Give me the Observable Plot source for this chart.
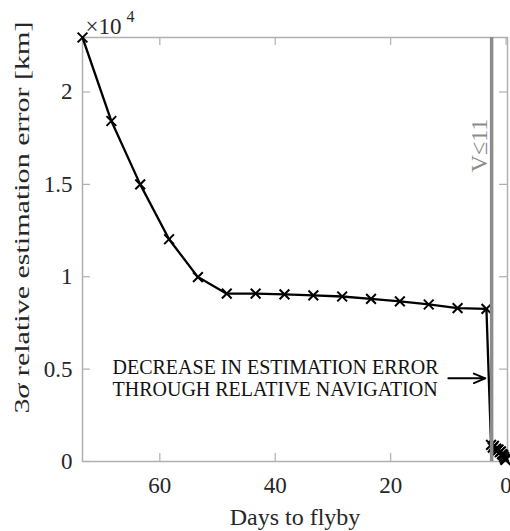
<!DOCTYPE html>
<html>
<head>
<meta charset="utf-8">
<script src="https://cdn.jsdelivr.net/npm/d3@7"></script>
<script src="https://cdn.jsdelivr.net/npm/@observablehq/plot@0.6"></script>
<style>
  html, body { margin: 0; padding: 0; background: #fff; }
</style>
</head>
<body>
<div id="chart"></div>
<script>
// Approach phase: days to flyby and 3-sigma relative error (km)
const farDays   = [73.4, 68.4, 63.4, 58.4, 53.4, 48.4, 43.4, 38.4, 33.4, 28.4, 23.4, 18.4, 13.4, 8.4, 3.4];
const farErrors = [22950, 18430, 15000, 12030, 9980, 9085, 9090, 9047, 8993, 8930, 8800, 8670, 8500, 8300, 8260];
// Final phase after relative navigation starts
const nearDays   = [2.6, 2.3, 2.1, 1.9, 1.7, 1.5, 1.3, 1.1, 0.9, 0.7, 0.5, 0.35, 0.2, 0.1];
const nearErrors = [900, 750, 850, 650, 700, 600, 650, 500, 550, 400, 350, 250, 150, 80];

const xTicks = [0, 20, 40, 60];
const yTicks = [0, 5000, 10000, 15000, 20000];
const vLineDay = 2.5;
const vLineLabel = "V≤11";
const noteLines = ["DECREASE IN ESTIMATION ERROR", "THROUGH RELATIVE NAVIGATION"];
const noteAt = {day: 68.2, error: 4500};
const arrowFrom = {day: 10.0, error: 4500};
const arrowTo = {day: 3.6, error: 4500};
const xLabel = "Days to flyby";
const yLabel = "3σ relative estimation error [km]";

const series = farDays.map((d, i) => ({day: d, err: farErrors[i]}))
  .concat(nearDays.map((d, i) => ({day: d, err: nearErrors[i]})));

const W = 510, H = 531;
const mTop = 37, mLeft = 82, mRight = 3, mBottom = 70;
const plotH = H - mTop - mBottom, plotW = W - mLeft - mRight;
const axisGray = "#b0b0b0";
const textCol = "#262626";
const serif = "'Liberation Serif', 'Times New Roman', serif";

const chart = Plot.plot({
  width: W, height: H,
  marginTop: mTop, marginLeft: mLeft, marginRight: mRight, marginBottom: mBottom,
  style: {fontFamily: serif, fontSize: "23px", color: textCol, background: "#fff", overflow: "visible"},
  x: {domain: [73.4, -0.25]},
  y: {domain: [0, 22950]},
  marks: [
    Plot.frame({stroke: axisGray, strokeWidth: 1.5}),
    // inward ticks on all four sides
    Plot.tickX(xTicks, {x: d => d, stroke: axisGray, strokeWidth: 1.2, insetTop: plotH - 8}),
    Plot.tickX(xTicks, {x: d => d, stroke: axisGray, strokeWidth: 1.2, insetBottom: plotH - 8}),
    Plot.tickY(yTicks, {y: d => d, stroke: axisGray, strokeWidth: 1.2, insetRight: plotW - 8}),
    Plot.tickY(yTicks, {y: d => d, stroke: axisGray, strokeWidth: 1.2, insetLeft: plotW - 8}),
    Plot.axisX({ticks: xTicks, tickSize: 0, tickPadding: 15, label: null, fontSize: 23}),
    Plot.axisY({ticks: yTicks, tickSize: 0, tickPadding: 10, label: null, fontSize: 23, tickFormat: d => String(d / 1e4)}),
    Plot.line(series, {x: "day", y: "err", stroke: "black", strokeWidth: 2.3}),
    Plot.dot(series, {x: "day", y: "err", symbol: "times", r: 4.5, stroke: "black", strokeWidth: 2}),
    Plot.ruleX([vLineDay], {stroke: "#8c8c8c", strokeWidth: 3.5}),
    Plot.text([vLineLabel], {x: vLineDay, frameAnchor: "top", text: d => d, rotate: -90, dx: -22, dy: 108, fill: "#8c8c8c", fontSize: 24}),
    Plot.text([noteLines.join("\n")], {x: noteAt.day, y: noteAt.error, text: d => d, textAnchor: "start", lineAnchor: "middle", lineHeight: 1.1, fontSize: 20, fill: "#111"}),
    Plot.arrow([0], {x1: arrowFrom.day, y1: arrowFrom.error, x2: arrowTo.day, y2: arrowTo.error, stroke: "black", strokeWidth: 2, headLength: 10, headAngle: 45}),
    // axis labels and exponent
    Plot.text([xLabel], {frameAnchor: "bottom", text: d => d, dy: 63, fontSize: 24, lineAnchor: "bottom"}),
    Plot.text([yLabel], {frameAnchor: "bottom-left", text: d => d, rotate: -90, textAnchor: "start", dx: -54, dy: -48, fontSize: 20}),
    Plot.text(["×10"], {frameAnchor: "top-left", text: d => d, textAnchor: "start", lineAnchor: "bottom", dx: 3, dy: -4, fontSize: 23}),
    Plot.text(["4"], {frameAnchor: "top-left", text: d => d, textAnchor: "start", lineAnchor: "bottom", dx: 44, dy: -16, fontSize: 16})
  ]
});

document.getElementById("chart").appendChild(chart);

// Italic sigma and stretched y-axis label, as in the reference
d3.select(chart).selectAll("text").each(function() {
  if (this.textContent === yLabel) {
    const t = d3.select(this);
    t.text(null);
    t.append("tspan").text("3");
    t.append("tspan").attr("font-style", "italic").text("σ");
    t.append("tspan").text(yLabel.slice(2));
    t.attr("textLength", 392).attr("lengthAdjust", "spacingAndGlyphs");
  }
});
</script>
</body>
</html>
